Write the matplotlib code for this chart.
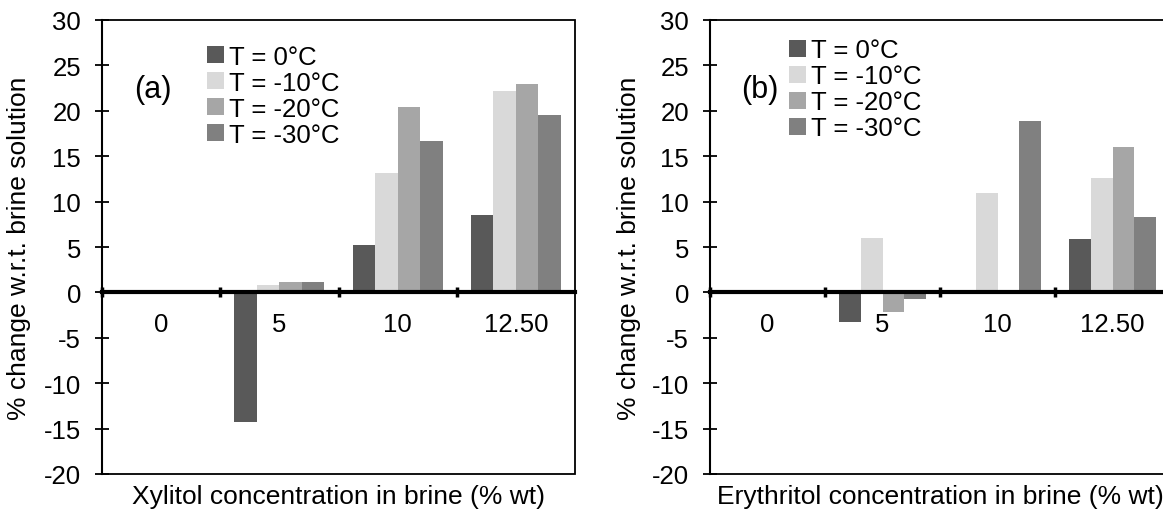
import numpy as np
import matplotlib.pyplot as plt
from matplotlib.patches import Rectangle

plt.rcParams['font.family'] = ['Liberation Sans', 'DejaVu Sans']
plt.rcParams['axes.unicode_minus'] = False

# data
categories = ['0', '5', '10', '12.50']
series = ['T = 0°C', 'T = -10°C', 'T = -20°C', 'T = -30°C']
colors = ['#595959', '#d9d9d9', '#a6a6a6', '#808080']

xylitol = [
    [0, -14.3, 5.2, 8.5],     # 0°C
    [0, 0.8, 13.2, 22.2],     # -10°C
    [0, 1.2, 20.4, 23.0],     # -20°C
    [0, 1.2, 16.7, 19.5],     # -30°C
]
erythritol = [
    [0, -3.3, 0, 5.9],
    [0, 6.0, 10.9, 12.6],
    [0, -2.2, 0, 16.0],
    [0, -0.7, 18.9, 8.3],
]

fig = plt.figure(figsize=(11.63, 5.10), dpi=100)
ax_a = fig.add_axes([102/1163, 35/510, 473/1163, 454/510])
ax_b = fig.add_axes([710/1163, 35/510, 460/1163, 454/510])

FS = 18.5
bar_w = 0.19


def draw(ax, data, xlabel, tag, leg_x, leg_y):
    x = np.arange(len(categories))
    for i, (vals, lab, c) in enumerate(zip(data, series, colors)):
        ax.bar(x + (i - 1.5) * bar_w, vals, bar_w, color=c, label=lab, zorder=2)

    ax.set_xlim(-0.5, len(categories) - 0.5)
    ax.set_ylim(-20, 30)
    ax.set_yticks(range(-20, 31, 5))

    # category axis sits on zero
    for s in ['top', 'right']:
        ax.spines[s].set_visible(False)
    ax.spines['bottom'].set_position(('data', 0))
    ax.spines['bottom'].set_linewidth(3)
    ax.spines['bottom'].set_zorder(3)
    ax.spines['left'].set_linewidth(1.5)
    ax.add_patch(Rectangle((0, 0), 1, 1, transform=ax.transAxes, fill=False,
                           lw=1.3, ec='black', clip_on=False, zorder=1))

    ax.set_xticks(np.arange(-0.5, len(categories) - 0.5, 1.0))
    ax.set_xticklabels([])
    ax.set_xticks(x, minor=True)
    ax.set_xticklabels(categories, minor=True)
    ax.tick_params(axis='x', which='major', direction='inout', length=7, width=2.5)
    ax.tick_params(axis='x', which='minor', length=0, pad=14, labelsize=FS)
    ax.tick_params(axis='y', direction='inout', length=10, width=1.3, pad=10, labelsize=FS)

    ax.set_ylabel('% change w.r.t. brine solution', fontsize=19)
    ax.yaxis.set_label_coords(-0.15, 0.5)
    ax.set_xlabel(xlabel, fontsize=19)
    ax.xaxis.set_label_coords(0.5, -0.023)

    ax.text(0.108, 0.848, tag, transform=ax.transAxes, fontsize=22,
            ha='center', va='center')
    ax.legend(loc='upper left', bbox_to_anchor=(leg_x, leg_y), frameon=False,
              fontsize=FS, handlelength=0.65, handleheight=0.65,
              handletextpad=0.2, labelspacing=0.08, borderpad=0,
              borderaxespad=0)


draw(ax_a, xylitol, 'Xylitol concentration in brine (% wt)', '(a)', 0.222, 0.946)
draw(ax_b, erythritol, 'Erythritol concentration in brine (% wt)', '(b)', 0.172, 0.96)

fig.savefig('out.png', dpi=100)
